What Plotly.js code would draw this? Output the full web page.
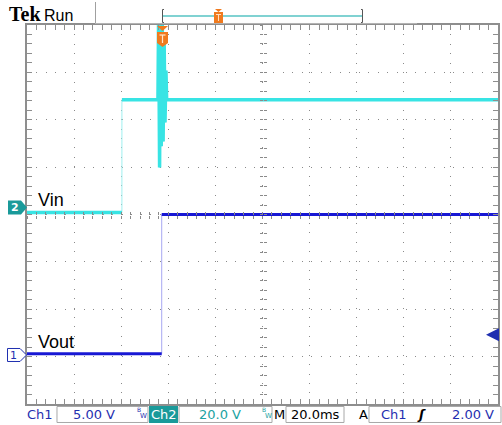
<!DOCTYPE html>
<html><head><meta charset="utf-8">
<script src="https://cdn.plot.ly/plotly-3.0.1.min.js"></script>
<style>html,body{margin:0;padding:0;background:#fff}#chart{width:502px;height:425px}</style>
</head><body><div id="chart"></div>
<script>
// Channel 2 : Vin (20 V/div)
const vinTime  = [0, 40.3, 40.3, 55.6, 55.9, 56.3, 56.6, 57.0, 57.4, 57.8, 58.2, 58.6, 59.0, 59.3, 200];
const vinVolts = [0, 0, 47.6, 47.6, 85, 19, 84, 28, 84, 30, 75, 38, 60, 47.6, 47.6];
// Channel 1 : Vout (5 V/div)
const voutTime  = [0, 57.2, 57.2, 200];
const voutVolts = [0, 0, 14.7, 14.7];
const traceLabels = ['Vin', 'Vout'];
const ch1Scale = 5, ch2Scale = 20;       // V/div
const ch1Offset = -2.94, ch2Offset = 0.04; // div
const timeScale = 20;                     // ms/div
const trigLevel = 2.0;                    // V on Ch1
const statusTexts = ['Ch1', '5.00 V', 'Ch2', '20.0 V', 'M', '20.0ms', 'A', 'Ch1', 'ʃ', '2.00 V'];

// ---- helpers ----
const L = 27, T = 25, W = 471, H = 379;
const px = x => (x - L) / W;
const py = y => (T + H - y) / H;
function pathPx(pts, close) {
  return pts.map((p, i) => (i ? 'L' : 'M') + px(p[0]).toFixed(5) + ',' + py(p[1]).toFixed(5)).join('') + (close ? 'Z' : '');
}
function toDiv(v, scale, off) { return v.map(x => x / scale + off); }
function breakEdges(t, v) {
  const xs = [], ys = [];
  for (let i = 0; i < t.length; i++) {
    if (i > 0 && t[i] === t[i - 1]) { xs.push(null); ys.push(null); }
    xs.push(t[i]); ys.push(v[i]);
  }
  return [xs, ys];
}

const CYAN = '#38e4e4', CYAN_EDGE = '#9ff0f0';
const BLUE = '#1818d4', BLUE_EDGE = '#a8a8f2';
const TEAL = '#1a9a9a', STBLUE = '#1f2fb0', ORANGE = '#f07a1e';

const vinY = toDiv(vinVolts, ch2Scale, ch2Offset);
const voutY = toDiv(voutVolts, ch1Scale, ch1Offset);
const [vinTx, vinTy] = breakEdges(vinTime, vinY);
const [voutTx, voutTy] = breakEdges(voutTime, voutY);

const traces = [
  {x: vinTime, y: vinY, mode: 'lines', line: {color: CYAN_EDGE, width: 1}, name: traceLabels[0]},
  {x: vinTx, y: vinTy, mode: 'lines', line: {color: CYAN, width: 3.5}, connectgaps: false, name: traceLabels[0]},
  {x: voutTime, y: voutY, mode: 'lines', line: {color: BLUE_EDGE, width: 1}, name: traceLabels[1]},
  {x: voutTx, y: voutTy, mode: 'lines', line: {color: BLUE, width: 3}, connectgaps: false, name: traceLabels[1]},
  {x: [], y: [], xaxis: 'x2', yaxis: 'y'},
  {x: [], y: [], xaxis: 'x3', yaxis: 'y'},
  {x: [], y: [], xaxis: 'x', yaxis: 'y2'},
  {x: [], y: [], xaxis: 'x', yaxis: 'y3'}
];

const xRange = [0, 10 * timeScale], yRange = [-4, 4];
const FRAME = '#8e8e8e', GRID = '#8a8a8a';
const centerAx = (extra) => Object.assign({
  anchor: 'free', position: 0.5, showgrid: false, zeroline: false, showline: false,
  showticklabels: false, ticklen: 3, tickwidth: 1, tickcolor: GRID, fixedrange: true
}, extra);

const layout = {
  width: 502, height: 425,
  margin: {l: L, r: 502 - L - W, t: T, b: 425 - T - H, pad: 0},
  paper_bgcolor: '#fff', plot_bgcolor: '#fff', showlegend: false,
  font: {family: 'DejaVu Sans', size: 13, color: '#000'},
  xaxis: {range: xRange, dtick: timeScale, tick0: 0, showgrid: true, gridcolor: GRID, gridwidth: 1,
          griddash: '1px,8.42px', showline: true, linecolor: FRAME, linewidth: 2, mirror: 'allticks',
          ticks: 'inside', ticklen: 5, tickcolor: FRAME, tickwidth: 1,
          minor: {dtick: timeScale / 5, tick0: 0, ticks: 'inside', ticklen: 2.5, tickcolor: FRAME, showgrid: false},
          showticklabels: false, zeroline: false, fixedrange: true},
  yaxis: {range: yRange, dtick: 1, tick0: 0, showgrid: true, gridcolor: GRID, gridwidth: 1,
          griddash: '1px,8.475px', showline: true, linecolor: FRAME, linewidth: 2, mirror: 'allticks',
          ticks: 'inside', ticklen: 5, tickcolor: FRAME, tickwidth: 1,
          minor: {dtick: 0.2, tick0: 0, ticks: 'inside', ticklen: 2.5, tickcolor: FRAME, showgrid: false},
          showticklabels: false, zeroline: false, fixedrange: true},
  xaxis2: centerAx({overlaying: 'x', range: xRange, dtick: timeScale / 5, tick0: 0, ticks: 'outside'}),
  xaxis3: centerAx({overlaying: 'x', range: xRange, dtick: timeScale / 5, tick0: 0, ticks: 'inside'}),
  yaxis2: centerAx({overlaying: 'y', range: yRange, dtick: 0.2, tick0: 0, ticks: 'outside'}),
  yaxis3: centerAx({overlaying: 'y', range: yRange, dtick: 0.2, tick0: 0, ticks: 'inside'}),
  shapes: [], annotations: []
};

const S = layout.shapes, A = layout.annotations;
function shp(pts, close, line, fill) {
  S.push({type: 'path', xref: 'paper', yref: 'paper', path: pathPx(pts, close),
          line: line || {width: 0}, fillcolor: fill || 'rgba(0,0,0,0)', layer: 'above'});
}
function txt(text, x, y, opts) {
  A.push(Object.assign({text: text, x: px(x), y: py(y), xref: 'paper', yref: 'paper', showarrow: false,
    xanchor: 'center', yanchor: 'middle', font: {family: 'DejaVu Sans', size: 13, color: '#000'}}, opts || {}));
}

// ---- top header ----
txt('<b>Tek</b>', 7, 14, {xanchor: 'left', font: {family: 'Liberation Serif', size: 20, color: '#000'}});
txt('Run', 42, 15, {xanchor: 'left', font: {family: 'Liberation Sans', size: 16, color: '#000'}});
shp([[95.5, 2], [95.5, 24]], false, {color: '#a0a0a0', width: 1});
shp([[95, 23.5], [417, 23.5]], false, {color: '#b4b4b4', width: 1});
shp([[164, 9.5], [162.5, 9.5], [162.5, 22.5], [164, 22.5]], false, {color: '#555', width: 1});
shp([[361, 9.5], [362.5, 9.5], [362.5, 22.5], [361, 22.5]], false, {color: '#555', width: 1});
shp([[163, 16], [362, 16]], false, {color: '#80d2d2', width: 2});
shp([[215, 9], [222, 9], [218.5, 12]], true, {width: 0}, ORANGE);
shp([[214, 12], [223, 12], [223, 23], [214, 23]], true, {width: 0}, ORANGE);
shp([[216, 14.5], [221, 14.5]], false, {color: '#ffe0c0', width: 1});
shp([[218.5, 14.5], [218.5, 21]], false, {color: '#ffe0c0', width: 1});

// trigger position marker under the top border
shp([[157, 26], [168, 26], [162.5, 31]], true, {width: 0}, ORANGE);
shp([[157, 32], [168, 32], [168, 43], [162.5, 47], [157, 43]], true, {width: 0}, ORANGE);
shp([[159.5, 35], [165.5, 35]], false, {color: '#ffe6cc', width: 1.2});
shp([[162.5, 35], [162.5, 43]], false, {color: '#ffe6cc', width: 1.2});

// ---- channel ground markers ----
shp([[8, 200.5], [21, 200.5], [27, 207.5], [21, 214.5], [8, 214.5]], true, {width: 0}, TEAL);
txt('<b>2</b>', 14.5, 207.5, {font: {family: 'DejaVu Sans', size: 11, color: '#fff'}});
shp([[7.5, 348.5], [20, 348.5], [26.5, 355], [20, 361.5], [7.5, 361.5]], true, {color: STBLUE, width: 1}, '#fff');
txt('1', 13.5, 355, {font: {family: 'DejaVu Sans', size: 11, color: STBLUE}});

// trace labels
txt(traceLabels[0], 36, 200, {xanchor: 'left', font: {family: 'Liberation Sans', size: 18, color: '#000'}});
txt(traceLabels[1], 36, 342, {xanchor: 'left', font: {family: 'Liberation Sans', size: 18, color: '#000'}});

// trigger level arrow on the right (Ch1)
A.push({x: px(486), y: trigLevel / ch1Scale + ch1Offset, xref: 'paper', yref: 'y', ax: 11, ay: 0,
        showarrow: true, arrowhead: 2, arrowsize: 1.3, arrowwidth: 2, arrowcolor: STBLUE, text: ''});

// ---- status bar ----
const SY = 414.5;
shp([[57, 406.5], [148, 406.5], [148, 422.5], [57, 422.5]], true, {color: '#a8a8a8', width: 1}, '#fff');
shp([[149, 406], [178, 406], [178, 423], [149, 423]], true, {width: 0}, TEAL);
shp([[179, 406.5], [272, 406.5], [272, 422.5], [179, 422.5]], true, {color: '#a8a8a8', width: 1}, '#fff');
shp([[286, 406.5], [344, 406.5], [344, 422.5], [286, 422.5]], true, {color: '#a8a8a8', width: 1}, '#fff');
shp([[369, 406.5], [501, 406.5], [501, 422.5], [369, 422.5]], true, {color: '#a8a8a8', width: 1}, '#fff');
txt(statusTexts[0], 39.5, SY, {font: {family: 'DejaVu Sans', size: 13, color: STBLUE}});
txt(statusTexts[1], 94, SY, {font: {family: 'DejaVu Sans', size: 13, color: STBLUE}});
txt('B', 139, 409.5, {font: {family: 'DejaVu Sans', size: 6, color: STBLUE}});
txt('W', 143.5, 416, {font: {family: 'DejaVu Sans', size: 7, color: STBLUE}});
txt(statusTexts[2], 163.5, SY, {font: {family: 'DejaVu Sans', size: 13, color: '#fff'}});
txt(statusTexts[3], 220, SY, {font: {family: 'DejaVu Sans', size: 13, color: '#20a2a2'}});
txt('B', 264, 409.5, {font: {family: 'DejaVu Sans', size: 6, color: '#20a2a2'}});
txt('W', 268.5, 416, {font: {family: 'DejaVu Sans', size: 7, color: '#20a2a2'}});
txt(statusTexts[4], 279, SY, {font: {family: 'DejaVu Sans', size: 13, color: '#000'}});
txt(statusTexts[5], 315, SY, {font: {family: 'DejaVu Sans', size: 13, color: '#000'}});
txt(statusTexts[6], 363, SY, {font: {family: 'DejaVu Sans', size: 13, color: '#000'}});
txt(statusTexts[7], 394, SY, {font: {family: 'DejaVu Sans', size: 13, color: STBLUE}});
txt('<b><i>' + statusTexts[8] + '</i></b>', 421, SY, {font: {family: 'DejaVu Sans', size: 13, color: '#000'}});
txt(statusTexts[9], 473, SY, {font: {family: 'DejaVu Sans', size: 13, color: STBLUE}});

Plotly.newPlot('chart', traces, layout, {staticPlot: true, displayModeBar: false});
</script>
</body></html>
